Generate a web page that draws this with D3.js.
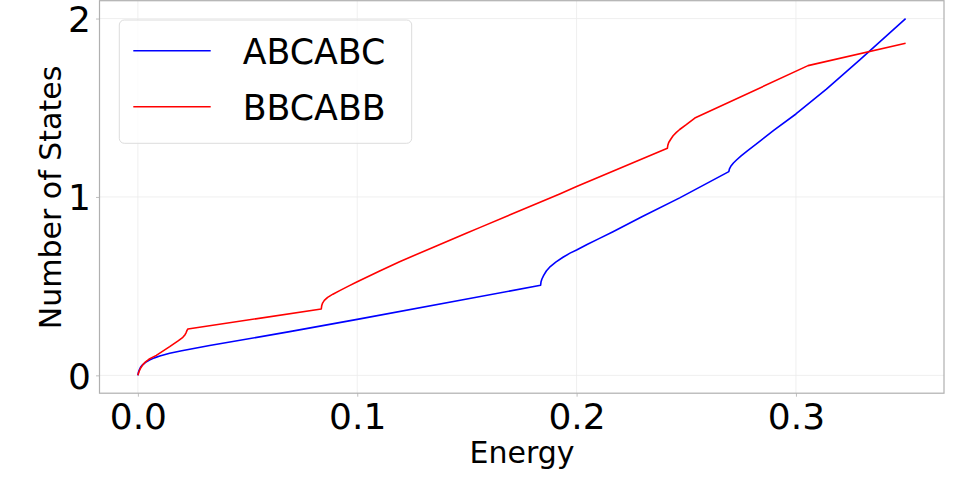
<!DOCTYPE html>
<html><head><meta charset="utf-8">
<script src="https://cdn.jsdelivr.net/npm/d3@7"></script>
<style>body{margin:0;background:#fff}svg{display:block}text{font-family:"DejaVu Sans",sans-serif;fill:#000}</style>
</head><body><svg id="c" width="960" height="480"></svg>
<script>
const seriesNames = ["ABCABC", "BBCABB"];
const seriesColors = ["#0000ff", "#ff0000"];
const energyABCABC = [0, 0.0002, 0.0006, 0.0012, 0.002, 0.0035, 0.0053, 0.0075, 0.01, 0.0145, 0.02, 0.0327, 0.0692, 0.1, 0.15, 0.1836, 0.1838, 0.1842, 0.185, 0.1862, 0.188, 0.1905, 0.1938, 0.197, 0.2, 0.205, 0.21, 0.2166, 0.23, 0.247, 0.2694, 0.2697, 0.2703, 0.2715, 0.2729, 0.275, 0.278, 0.282, 0.29, 0.3, 0.3139, 0.3291, 0.35];
const statesABCABC = [0, 0.015, 0.03, 0.045, 0.058, 0.073, 0.086, 0.098, 0.108, 0.124, 0.138, 0.167, 0.245, 0.314, 0.428, 0.505, 0.525, 0.54, 0.56, 0.585, 0.61, 0.635, 0.662, 0.685, 0.703, 0.735, 0.765, 0.805, 0.89, 0.995, 1.142, 1.158, 1.172, 1.19, 1.207, 1.23, 1.26, 1.297, 1.375, 1.465, 1.604, 1.768, 2.0];
const energyBBCABB = [0, 0.0005, 0.0012, 0.0023, 0.0035, 0.005, 0.0084, 0.0145, 0.0185, 0.0205, 0.0215, 0.022, 0.0224, 0.0228, 0.0836, 0.0838, 0.0842, 0.085, 0.0865, 0.0889, 0.092, 0.096, 0.1, 0.11, 0.1193, 0.135, 0.1497, 0.1558, 0.1923, 0.2, 0.2414, 0.2416, 0.242, 0.243, 0.244, 0.2455, 0.247, 0.25, 0.2539, 0.3055, 0.35];
const statesBBCABB = [0, 0.02, 0.04, 0.06, 0.076, 0.09, 0.112, 0.161, 0.195, 0.213, 0.228, 0.24, 0.252, 0.26, 0.372, 0.39, 0.405, 0.42, 0.437, 0.455, 0.475, 0.5, 0.525, 0.583, 0.637, 0.72, 0.796, 0.828, 1.017, 1.058, 1.273, 1.29, 1.305, 1.325, 1.343, 1.362, 1.378, 1.405, 1.442, 1.736, 1.862];
const xTicks = [0.0, 0.1, 0.2, 0.3];
const yTicks = [0, 1, 2];
const xLabel = "Energy", yLabel = "Number of States";

const svg = d3.select("#c");
const L = 99.5, R = 944, T = 0.7, B = 393.2;
const x = d3.scaleLinear().domain([-0.0175, 0.3675]).range([L, R]);
const y = d3.scaleLinear().domain([-0.1, 2.1]).range([B, T]);

// grid
const g = svg.append("g");
g.selectAll(".gx").data(xTicks).enter().append("line")
  .attr("x1", d => x(d)).attr("x2", d => x(d)).attr("y1", T).attr("y2", B)
  .attr("stroke", "#ebebeb").attr("stroke-width", 0.8);
g.selectAll(".gy").data(yTicks).enter().append("line")
  .attr("y1", d => y(d)).attr("y2", d => y(d)).attr("x1", L).attr("x2", R)
  .attr("stroke", "#ebebeb").attr("stroke-width", 0.8);

// axes
const xAxis = d3.axisBottom(x).tickValues(xTicks).tickFormat(d3.format(".1f")).tickSize(3.5).tickPadding(4);
const yAxis = d3.axisLeft(y).tickValues(yTicks).tickFormat(d3.format("d")).tickSize(3.5).tickPadding(5);
const gx = svg.append("g").attr("transform", `translate(0,${B})`).call(xAxis);
const gy = svg.append("g").attr("transform", `translate(${L},0)`).call(yAxis);
[gx, gy].forEach(a => {
  a.select(".domain").remove();
  a.selectAll(".tick line").attr("stroke", "#b0b0b0").attr("stroke-width", 0.8);
  a.selectAll(".tick text").style("font-family", "DejaVu Sans").attr("font-size", 36).attr("fill", "#000");
});
gx.selectAll(".tick text").attr("dy", "0.78em");
gy.selectAll(".tick text").attr("dy", "0.36em");

// frame
svg.append("rect").attr("x", L).attr("y", T).attr("width", R - L).attr("height", B - T)
  .attr("fill", "none").attr("stroke", "#b0b0b0").attr("stroke-width", 1.2);

// lines
const line = d3.line().x(d => x(d[0])).y(d => y(d[1]));
const data = [
  d3.zip(energyABCABC, statesABCABC),
  d3.zip(energyBBCABB, statesBBCABB)
];
data.forEach((d, i) => {
  svg.append("path").datum(d).attr("d", line).attr("fill", "none")
    .attr("stroke", seriesColors[i]).attr("stroke-width", 1.6).attr("stroke-linejoin", "round");
});

// labels
svg.append("text").attr("x", 522).attr("y", 463).attr("text-anchor", "middle")
  .attr("font-size", 30).text(xLabel);
svg.append("text").attr("transform", "translate(61,197.5) rotate(-90)").attr("text-anchor", "middle")
  .attr("font-size", 30).text(yLabel);

// legend
const lg = svg.append("g");
lg.append("rect").attr("x", 119.3).attr("y", 20).attr("width", 292.4).attr("height", 123.3)
  .attr("rx", 5).attr("fill", "#fff").attr("fill-opacity", 0.8).attr("stroke", "#dcdcdc").attr("stroke-width", 1);
const legY = [50.7, 106.7];
seriesNames.forEach((n, i) => {
  lg.append("line").attr("x1", 133.3).attr("x2", 210.7).attr("y1", legY[i]).attr("y2", legY[i])
    .attr("stroke", seriesColors[i]).attr("stroke-width", 1.6);
  lg.append("text").attr("x", 242.7).attr("y", legY[i] + 13.3).attr("font-size", 34.8).text(n);
});
</script></body></html>
